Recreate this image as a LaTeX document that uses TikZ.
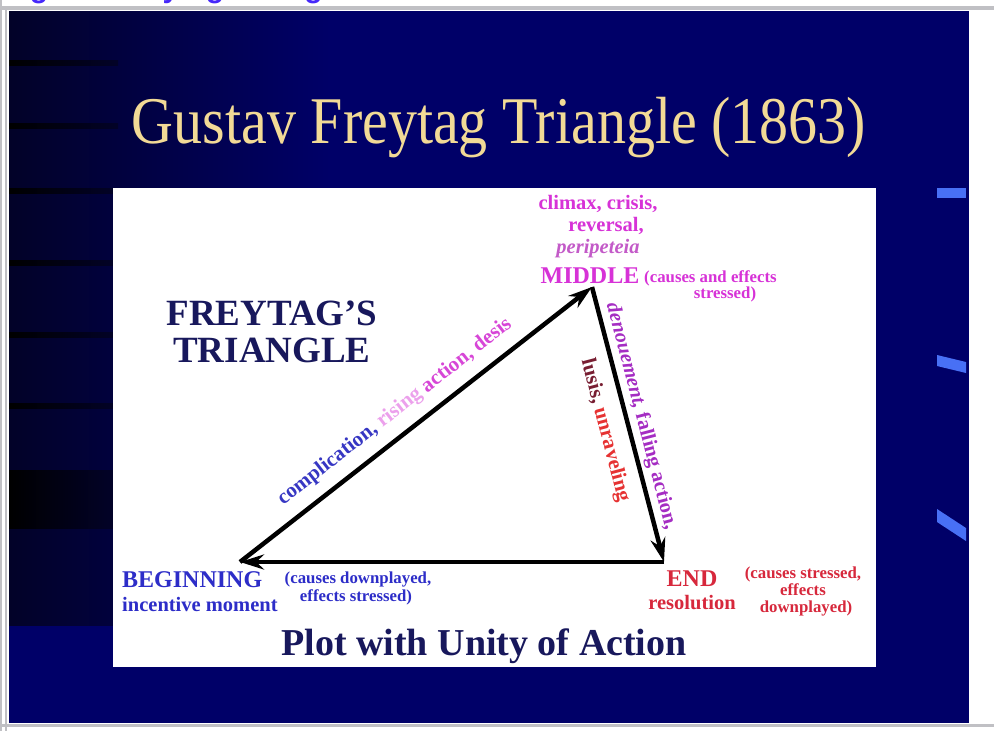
\documentclass[tikz,border=0pt]{standalone}
\usepackage{fontspec}
\usepackage{graphicx}
\setmainfont{Liberation Serif}
\newfontfamily\linkfont{Liberation Sans}
\usetikzlibrary{arrows.meta}

\definecolor{framegray}{RGB}{192,192,196}
\definecolor{linkblue}{RGB}{70,40,250}
\definecolor{slidenavy}{RGB}{0,0,104}
\definecolor{slidedark}{RGB}{2,2,40}
\definecolor{markblue}{RGB}{72,112,245}
\definecolor{titlegold}{RGB}{242,218,150}
\definecolor{inknavy}{RGB}{24,24,92}
\definecolor{begblue}{RGB}{45,45,200}
\definecolor{midmag}{RGB}{215,50,215}
\definecolor{peripink}{RGB}{195,90,200}
\definecolor{riseblue}{RGB}{55,55,195}
\definecolor{risepink}{RGB}{236,160,236}
\definecolor{risemag}{RGB}{215,70,215}
\definecolor{denpurple}{RGB}{165,45,195}
\definecolor{lusismaroon}{RGB}{120,30,50}
\definecolor{unravred}{RGB}{230,50,50}
\definecolor{endred}{RGB}{215,40,60}

\begin{document}
\begin{tikzpicture}[x=1pt, y=-1pt,
  leg/.style={line width=4.5pt, -{Stealth[length=24pt, width=15pt]}},
  big/.style={font=\bfseries\fontsize{24}{26}\selectfont, anchor=base, inner sep=0pt},
  sub/.style={font=\bfseries\fontsize{20.5}{22}\selectfont, anchor=base, inner sep=0pt},
  note/.style={font=\bfseries\fontsize{16.8}{17}\selectfont, anchor=base, inner sep=0pt},
  slope/.style={font=\bfseries\fontsize{21}{23}\selectfont, sloped}]
\useasboundingbox (0,0) rectangle (994,731);

% Page frame
\fill[white] (0,0) rectangle (994,731);
\begin{scope}
  \clip (0,0) rectangle (994,5.5);
  \node[font=\linkfont\bfseries\fontsize{30}{32}\selectfont, text=linkblue, anchor=base west, inner sep=0pt] (caption) at (3,-3) {Figure: Freytag Triangle};
\end{scope}
\fill[framegray] (0,6) rectangle (994,9.5);
\fill[framegray] (0,0) rectangle (2,731);
\fill[framegray] (5,9) rectangle (7,731);
\fill[framegray] (0,723.5) rectangle (994,727);

% Slide background
\fill[slidenavy] (9,11) rectangle (969,723);
\shade[left color=slidedark, right color=slidenavy] (9,11) rectangle (330,625);
\foreach \y in {63,126,191,263,335,406}
  \shade[left color=black, right color=slidedark] (9,\y-2.5) rectangle (118,\y+2.5);
\shade[left color=black, right color=slidedark] (9,470) rectangle (113,528);

% Bullet marks
\fill[markblue] (937,188) rectangle (966,198);
\fill[markblue] (937,355) -- (966,362) -- (966,373) -- (937,366) -- cycle;
\fill[markblue] (937,509) -- (966,528) -- (966,541) -- (937,522) -- cycle;

\node[font=\fontsize{58}{60}\selectfont, text=titlegold, anchor=base, inner sep=0pt] (title) at (499,143) {\scalebox{1}[1.15]{Gustav Freytag Triangle (1863)}};

% White panel
\fill[white] (113,188) rectangle (876,667);

\node[font=\bfseries\fontsize{37}{40}\selectfont, text=inknavy, anchor=base, inner sep=0pt] (freytag) at (272,325) {FREYTAG'S};
\node[font=\bfseries\fontsize{37}{40}\selectfont, text=inknavy, anchor=base, inner sep=0pt] (triword) at (272,362) {TRIANGLE};

% Triangle
\coordinate (beg) at (240,562);
\coordinate (mid) at (592,287);
\coordinate (end) at (664,562);
\draw[leg] (beg) -- node[slope, above, pos=0.48, inner sep=11pt] (rise) {{\color{riseblue}complication,} {\color{risepink}rising} {\color{risemag}action, desis}} (mid);
\draw[leg] (mid) -- node[slope, above, pos=0.484, inner sep=3pt, text=denpurple, font=\bfseries\fontsize{20.5}{22}\selectfont] (fall) {{\itshape denouement,} falling action,}
  node[slope, below, pos=0.5, inner sep=12pt] (lusis) {{\color{lusismaroon}lusis,} {\color{unravred}unraveling}} (end);
\draw[leg] (end) -- (beg);

% Middle
\node[sub, text=midmag] (climax) at (598,209) {climax, crisis,};
\node[sub, text=midmag] (reversal) at (606,231) {reversal,};
\node[sub, text=peripink, font=\bfseries\itshape\fontsize{20.5}{22}\selectfont] (peri) at (598,253) {peripeteia};
\node[big, text=midmag] (middle) at (590,283) {MIDDLE};
\node[note, text=midmag, anchor=base west] (midnote) at (644,282) {(causes and effects};
\node[note, text=midmag] (midnote2) at (725,298) {stressed)};

% Beginning
\node[big, text=begblue, anchor=base west] (begin) at (122,587) {BEGINNING};
\node[sub, text=begblue, anchor=base west] (incentive) at (122,611) {incentive moment};
\node[note, text=begblue] (begnote) at (358,583) {(causes downplayed,};
\node[note, text=begblue] (begnote2) at (356,601) {effects stressed)};

% End
\node[big, text=endred] (endword) at (692,586) {END};
\node[sub, text=endred] (resolution) at (692,609) {resolution};
\node[note, text=endred] (endnote) at (803,578) {(causes stressed,};
\node[note, text=endred] (endnote2) at (803,595) {effects};
\node[note, text=endred] (endnote3) at (806,612) {downplayed)};

\node[font=\bfseries\fontsize{38}{40}\selectfont, text=inknavy, anchor=base, inner sep=0pt] (plot) at (484,655) {Plot with Unity of Action};
\end{tikzpicture}
\end{document}
